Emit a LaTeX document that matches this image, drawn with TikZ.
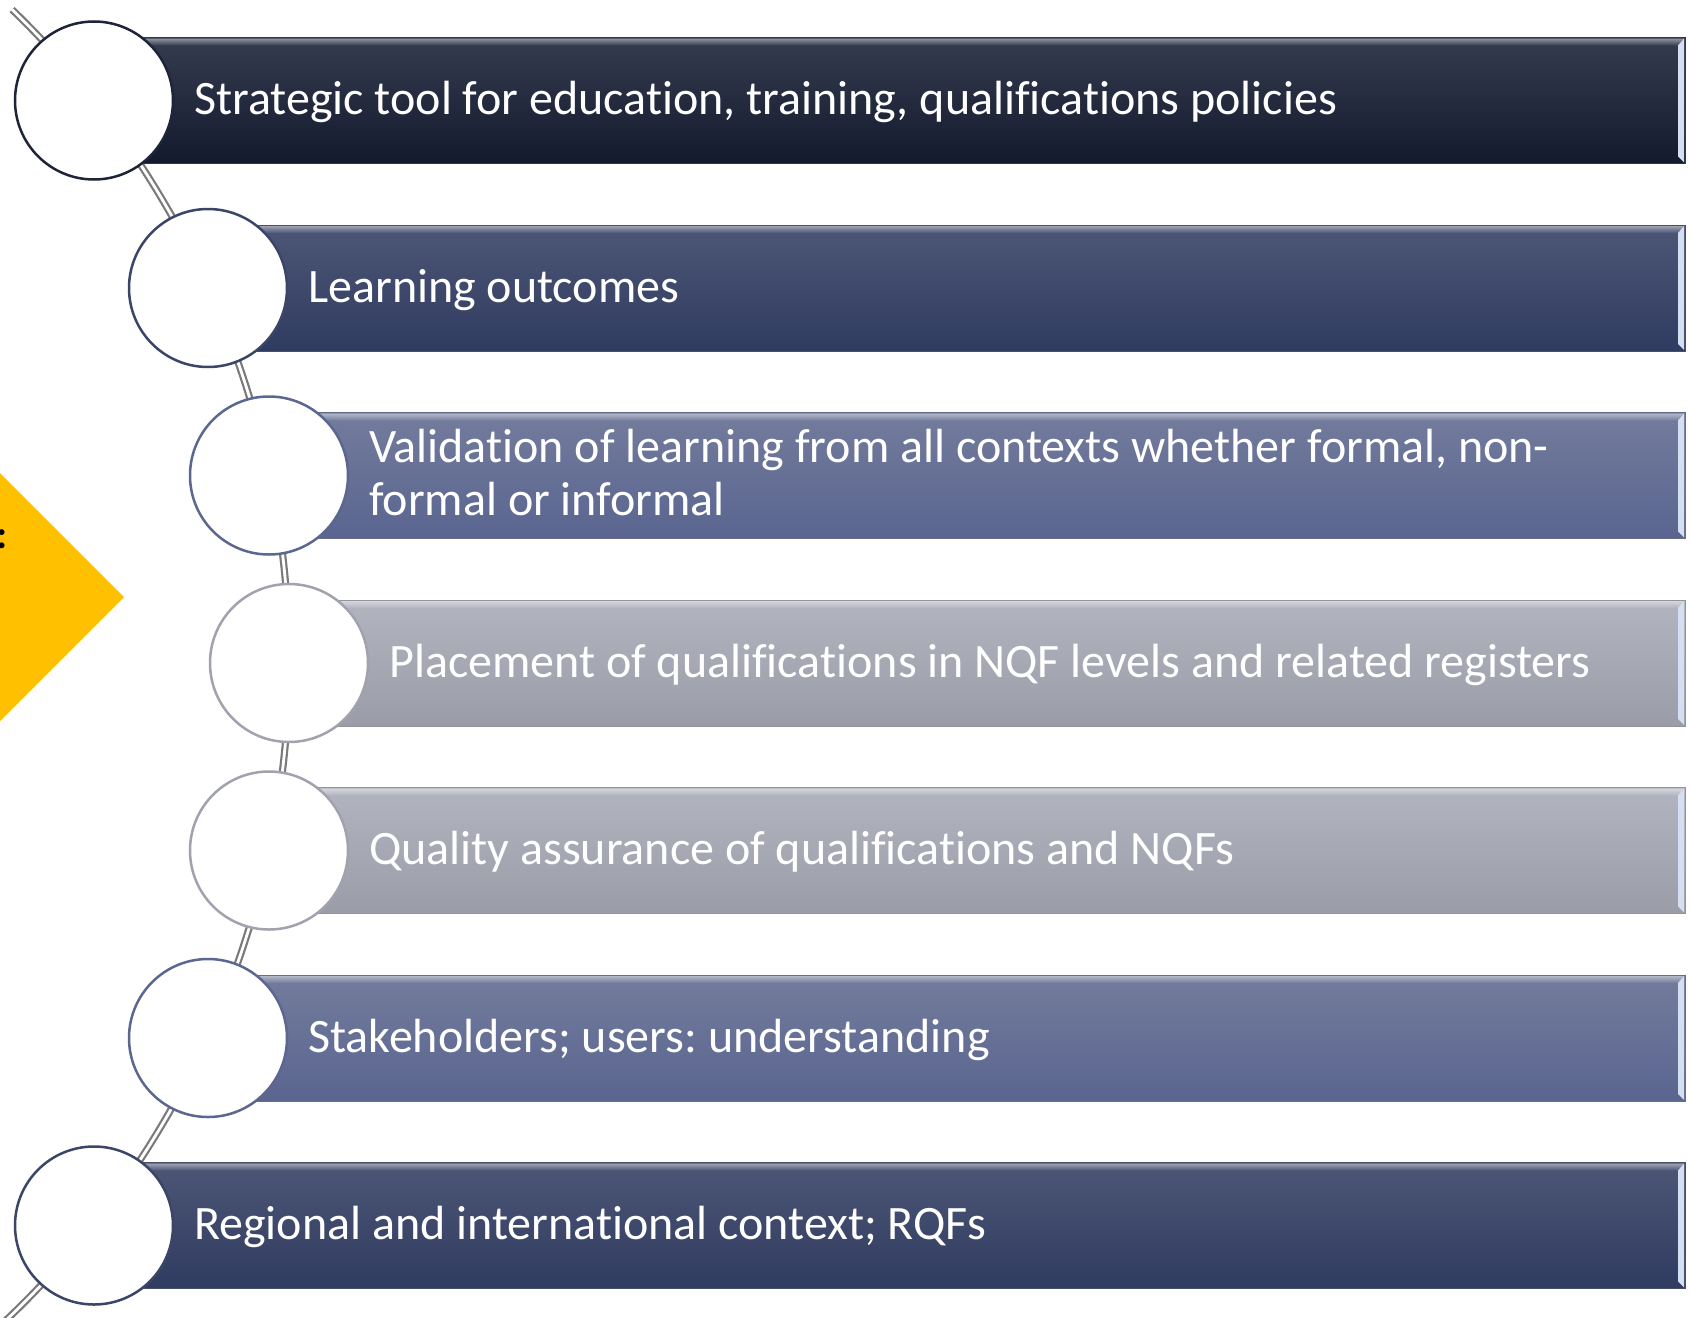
\documentclass[tikz,border=0pt]{standalone}
\usepackage{fontspec}
\setmainfont{Carlito}[Ligatures=CommonOff]
\frenchspacing
\definecolor{cAtop}{HTML}{363C50}\definecolor{cAbot}{HTML}{131A2D}\definecolor{cAstr}{HTML}{1E2538}
\definecolor{cBtop}{HTML}{4D5676}\definecolor{cBbot}{HTML}{2F3B60}\definecolor{cBstr}{HTML}{3A4568}
\definecolor{cCtop}{HTML}{737C9C}\definecolor{cCbot}{HTML}{5A6590}\definecolor{cCstr}{HTML}{5C6790}
\definecolor{cDtop}{HTML}{B2B4BF}\definecolor{cDbot}{HTML}{9A9CA8}\definecolor{cDstr}{HTML}{A0A2AE}
\definecolor{bevel}{HTML}{D4E0F2}
\definecolor{chevron}{HTML}{FFC000}
\definecolor{arcgray}{HTML}{7A7A7A}
\tikzset{
  circ/.style={circle, minimum size=158, inner sep=0, fill=white, line width=2.5},
  lbl/.style={anchor=base west, inner sep=0, text=white, align=left, font=\frenchspacing\fontsize{48}{53}\selectfont},
  arcline/.style={draw=arcgray, line width=2.2, double=white, double distance=2.8},
}
% #1 name, #2 cx, #3 cy, #4 top, #5 bottom, #6 stroke, #7 text, #8 text baseline y (last line)
\newcommand{\vclRow}[8]{%
  \shade[top color=#4, bottom color=#5] (#2,#3-63) rectangle (1685,#3+63);
  \shade[top color=#4!55!white, bottom color=#4] (#2,#3-62) -- (1684,#3-62) -- (1678,#3-55) -- (#2,#3-55) -- cycle;
  \fill[bevel] (1684,#3-62) -- (1684,#3+62) -- (1678,#3+56) -- (1678,#3-55) -- cycle;
  \draw[#5!70!gray, line width=1] (#2,#3-63) -- (1685,#3-63) -- (1685,#3+63) -- (#2,#3+63);
  \node[circ, draw=#6] (#1) at (#2,#3) {};
  \node[lbl] (#1t) at (#2+100,#8) {#7};
}
\begin{document}
\begin{tikzpicture}[x=1pt,y=-1pt]
\useasboundingbox (0,0) rectangle (1691,1317);
\clip (0,0) rectangle (1691,1317);
\fill[white] (0,0) rectangle (1691,1317);
% yellow chevron
\fill[chevron] (-10,463) -- (124,597) -- (-10,731) -- cycle;
\node[anchor=base west, inner sep=0, font=\bfseries\fontsize{40}{48}\selectfont] (colon) at (-3.5,548) {:};
% arc
\coordinate (arcc) at (-618,662);
\draw[arcline] (arcc) ++(-46:907) arc[start angle=-46, end angle=48, radius=907];
% rows
\vclRow{r1}{94}{100.5}{cAtop}{cAbot}{cAstr}{Strategic tool for education, training, qualifications policies}{114}
\vclRow{r2}{208}{288}{cBtop}{cBbot}{cBstr}{Learning outcomes}{302}
\vclRow{r3}{269}{475.5}{cCtop}{cCbot}{cCstr}{Validation of learning from all contexts whether formal, non-\\formal or informal}{515}
\vclRow{r4}{289}{663}{cDtop}{cDbot}{cDstr}{Placement of qualifications in NQF levels and related registers}{677}
\vclRow{r5}{269}{850.5}{cDtop}{cDbot}{cDstr}{Quality assurance of qualifications and NQFs}{864}
\vclRow{r6}{208}{1038}{cCtop}{cCbot}{cCstr}{Stakeholders; users: understanding}{1052}
\vclRow{r7}{94}{1225.5}{cBtop}{cBbot}{cBstr}{Regional and international context; RQFs}{1239}
\end{tikzpicture}
\end{document}
